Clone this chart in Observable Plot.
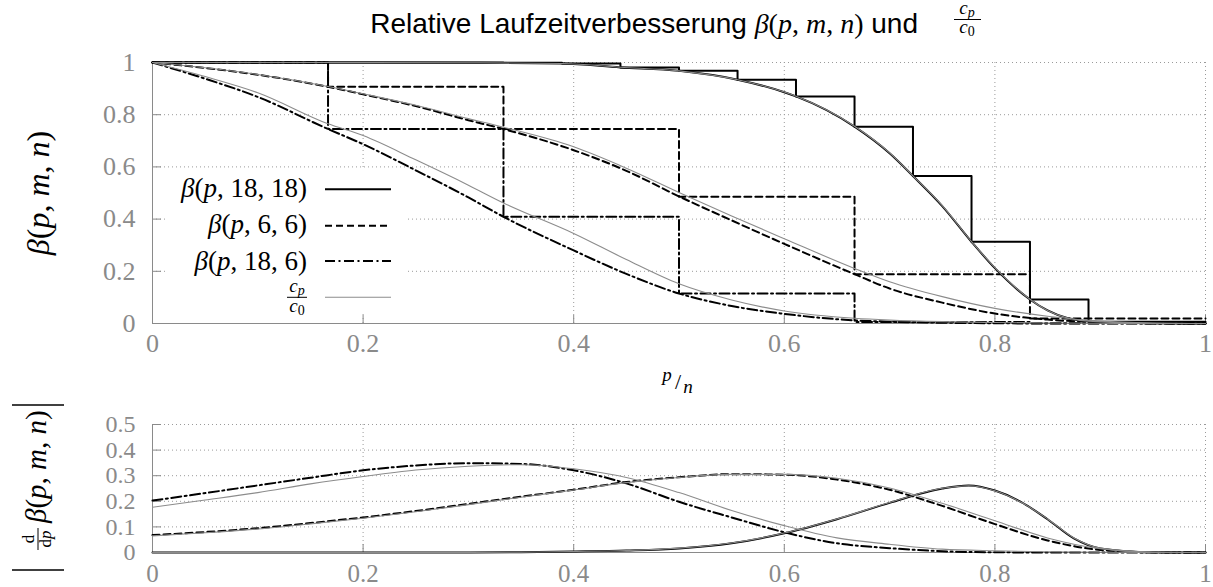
<!DOCTYPE html>
<html><head><meta charset="utf-8">
<script src="https://cdn.jsdelivr.net/npm/d3@7"></script>
<script src="https://cdn.jsdelivr.net/npm/@observablehq/plot@0.6"></script>
<style>
body{margin:0;background:#fff;}
#root{position:relative;width:1213px;height:587px;overflow:hidden;background:#fff;}
#root > svg{position:absolute;left:0;}
</style></head><body><div id="root"></div>
<script>
// ---------- tick values ----------
const X_TICKS = [0, 0.2, 0.4, 0.6, 0.8, 1];
const Y_TICKS_TOP = [0, 0.2, 0.4, 0.6, 0.8, 1];
const Y_TICKS_BOTTOM = [0, 0.1, 0.2, 0.3, 0.4, 0.5];

// ---------- step functions (top panel) ----------
const STEP_P18 = [0, 0.0556, 0.1111, 0.1667, 0.2222, 0.2778, 0.3333, 0.3889, 0.4444, 0.5, 0.5556, 0.6111, 0.6667, 0.7222, 0.7778, 0.8333, 0.8889, 1];
const STEP_BETA_18_18 = [1, 1, 1, 1, 1, 1, 0.999, 0.996, 0.981, 0.968, 0.934, 0.870, 0.754, 0.565, 0.313, 0.092, 0.007, 0.007];
const STEP_P6 = [0, 0.1667, 0.3333, 0.5, 0.6667, 0.8333, 1];
const STEP_BETA_6_6 = [1, 0.907, 0.745, 0.486, 0.189, 0.019, 0.019];
const STEP_BETA_18_6 = [1, 0.745, 0.409, 0.115, 0.006, 0.001, 0.001];

// ---------- smooth curves (top panel) ----------
const P_TOP = [0, 0.05, 0.1, 0.1667, 0.2, 0.25, 0.3, 0.3333, 0.4, 0.45, 0.5, 0.55, 0.6, 0.6667, 0.7, 0.75, 0.8, 0.85, 0.9, 0.95, 1];
const BETA_18_6 = [1, 0.938, 0.868, 0.745, 0.687, 0.587, 0.483, 0.409, 0.28, 0.19, 0.115, 0.067, 0.037, 0.012, 0.007, 0.003, 0.001, 0, 0, 0, 0];
const C_18_6    = [1, 0.946, 0.884, 0.765, 0.72, 0.627, 0.53, 0.462, 0.345, 0.245, 0.152, 0.09, 0.048, 0.02, 0.013, 0.007, 0.004, 0.002, 0.001, 0, 0];
const BETA_6_6  = [1, 0.979, 0.953, 0.907, 0.878, 0.833, 0.779, 0.745, 0.664, 0.585, 0.487, 0.395, 0.305, 0.189, 0.134, 0.08, 0.038, 0.015, 0.005, 0.001, 0];
const C_6_6     = [1, 0.98, 0.954, 0.908, 0.88, 0.836, 0.785, 0.752, 0.677, 0.595, 0.502, 0.412, 0.325, 0.211, 0.16, 0.103, 0.058, 0.028, 0.009, 0.002, 0];
const P_TOP_18  = [0, 0.1, 0.2, 0.3, 0.3889, 0.4444, 0.5, 0.5556, 0.6, 0.6111, 0.6667, 0.7, 0.7222, 0.75, 0.7778, 0.8, 0.8333, 0.85, 0.8889, 0.95, 1];
const BETA_18_18 = [1, 1, 1, 0.999, 0.996, 0.981, 0.968, 0.934, 0.886, 0.870, 0.754, 0.652, 0.565, 0.45, 0.313, 0.212, 0.092, 0.05, 0.008, 0.001, 0];
const C_18_18    = [1, 1, 1, 0.999, 0.996, 0.982, 0.968, 0.934, 0.887, 0.871, 0.756, 0.654, 0.566, 0.452, 0.314, 0.214, 0.093, 0.05, 0.009, 0.001, 0];

// ---------- derivatives (bottom panel) ----------
const P_BOT = [0, 0.05, 0.1, 0.15, 0.2, 0.25, 0.3, 0.35, 0.4, 0.45, 0.5, 0.55, 0.6, 0.65, 0.7, 0.75, 0.8, 0.85, 0.9, 0.95, 1];
const D_BETA_18_6 = [0.203, 0.232, 0.262, 0.292, 0.321, 0.34, 0.349, 0.346, 0.321, 0.27, 0.198, 0.137, 0.079, 0.036, 0.017, 0.005, 0.001, 0, 0, 0, 0];
const D_C_18_6    = [0.177, 0.205, 0.234, 0.268, 0.297, 0.322, 0.337, 0.343, 0.327, 0.293, 0.234, 0.164, 0.105, 0.057, 0.032, 0.013, 0.0065, 0.003, 0.001, 0, 0];
const D_BETA_6_6  = [0.068, 0.08, 0.095, 0.115, 0.137, 0.162, 0.19, 0.218, 0.245, 0.275, 0.294, 0.306, 0.304, 0.285, 0.245, 0.182, 0.111, 0.047, 0.01, 0.0005, 0];
const D_C_6_6     = [0.065, 0.077, 0.092, 0.112, 0.134, 0.159, 0.187, 0.216, 0.244, 0.273, 0.293, 0.305, 0.305, 0.29, 0.252, 0.192, 0.124, 0.057, 0.015, 0.002, 0];
const P_BOT_18    = [0, 0.2, 0.3, 0.35, 0.4, 0.45, 0.5, 0.55, 0.6, 0.65, 0.7, 0.75, 0.775, 0.8, 0.825, 0.85, 0.875, 0.9, 0.95, 1];
const D_BETA_18_18 = [0, 0, 0, 0.001, 0.004, 0.008, 0.016, 0.036, 0.075, 0.13, 0.194, 0.25, 0.262, 0.242, 0.197, 0.13, 0.055, 0.016, 0.001, 0];
const D_C_18_18    = [0, 0, 0, 0.001, 0.004, 0.008, 0.017, 0.037, 0.076, 0.131, 0.195, 0.251, 0.261, 0.241, 0.196, 0.131, 0.057, 0.017, 0.001, 0];

// ---------- helpers ----------
const zip = (xs, ys) => xs.map((p, i) => ({p, v: ys[i]}));
const fmt = d => d === 0 ? "0" : d === 1 ? "1" : d.toFixed(1);
const SERIF = "'Liberation Serif', 'DejaVu Serif', serif";
const SANS = "'Liberation Sans', Arial, sans-serif";
const GRID = {stroke: "#9a9a9a", strokeOpacity: 1, strokeDasharray: "1,3", strokeWidth: 1};
const AXISC = "#8a8a8a";
const SOLID = {stroke: "#000", strokeWidth: 2};
const DASH = {stroke: "#000", strokeWidth: 2, strokeDasharray: "7,4"};
const DASHDOT = {stroke: "#000", strokeWidth: 2, strokeDasharray: "10,3.5,2,3.5"};
const GREY = {stroke: "#8c8c8c", strokeWidth: 1.1};
const TICKTEXT = {tickSize: 0, fill: AXISC, fontFamily: SERIF, tickFormat: fmt, label: null};

const W = 1213, ML = 152, MR = 8;

// ---------- top panel ----------
const TOP_H = 400, TOP_MT = 62, TOP_MB = 77;
const topPlot = Plot.plot({
  width: W, height: TOP_H,
  marginLeft: ML, marginRight: MR, marginTop: TOP_MT, marginBottom: TOP_MB,
  x: {domain: [0, 1]}, y: {domain: [0, 1]},
  style: {background: "transparent", fontFamily: SERIF, color: AXISC},
  marks: [
    Plot.gridX(X_TICKS.slice(1), GRID),
    Plot.gridY(Y_TICKS_TOP.slice(1), GRID),
    Plot.ruleX([0], {stroke: AXISC}),
    Plot.ruleY([0], {stroke: AXISC}),
    Plot.tickX(X_TICKS.slice(1), {x: d => d, stroke: AXISC, insetTop: TOP_H - TOP_MT - TOP_MB - 8}),
    Plot.tickY(Y_TICKS_TOP.slice(1), {y: d => d, stroke: AXISC, insetRight: W - ML - MR - 9}),
    Plot.axisX(X_TICKS, {...TICKTEXT, tickPadding: 10, fontSize: 26}),
    Plot.axisY(Y_TICKS_TOP, {...TICKTEXT, tickPadding: 17, fontSize: 26}),
    Plot.line(zip(STEP_P18, STEP_BETA_18_18), {x: "p", y: "v", curve: "step-after", ...SOLID}),
    Plot.line(zip(STEP_P6, STEP_BETA_6_6), {x: "p", y: "v", curve: "step-after", ...DASH}),
    Plot.line(zip(STEP_P6, STEP_BETA_18_6), {x: "p", y: "v", curve: "step-after", ...DASHDOT}),
    Plot.line(zip(P_TOP_18, BETA_18_18), {x: "p", y: "v", curve: "monotone-x", ...SOLID}),
    Plot.line(zip(P_TOP, BETA_6_6), {x: "p", y: "v", curve: "monotone-x", ...DASH}),
    Plot.line(zip(P_TOP, BETA_18_6), {x: "p", y: "v", curve: "monotone-x", ...DASHDOT}),
    Plot.line(zip(P_TOP_18, C_18_18), {x: "p", y: "v", curve: "monotone-x", ...GREY}),
    Plot.line(zip(P_TOP, C_6_6), {x: "p", y: "v", curve: "monotone-x", ...GREY}),
    Plot.line(zip(P_TOP, C_18_6), {x: "p", y: "v", curve: "monotone-x", ...GREY})
  ]
});
topPlot.style.top = "0px";

// ---------- bottom panel ----------
const BOT_H = 187, BOT_MT = 24, BOT_MB = 35;
const botPlot = Plot.plot({
  width: W, height: BOT_H,
  marginLeft: ML, marginRight: MR, marginTop: BOT_MT, marginBottom: BOT_MB,
  x: {domain: [0, 1]}, y: {domain: [0, 0.5]},
  style: {background: "transparent", fontFamily: SERIF, color: AXISC},
  marks: [
    Plot.gridX(X_TICKS.slice(1), GRID),
    Plot.gridY(Y_TICKS_BOTTOM.slice(1), GRID),
    Plot.ruleX([0], {stroke: AXISC}),
    Plot.ruleY([0], {stroke: AXISC}),
    Plot.tickX(X_TICKS.slice(1), {x: d => d, stroke: AXISC, insetTop: BOT_H - BOT_MT - BOT_MB - 8}),
    Plot.tickY(Y_TICKS_BOTTOM.slice(1), {y: d => d, stroke: AXISC, insetRight: W - ML - MR - 9}),
    Plot.axisX(X_TICKS, {...TICKTEXT, tickPadding: 12, fontSize: 25}),
    Plot.axisY(Y_TICKS_BOTTOM, {...TICKTEXT, tickPadding: 17, fontSize: 24}),
    Plot.line(zip(P_BOT_18, D_BETA_18_18), {x: "p", y: "v", curve: "monotone-x", ...SOLID}),
    Plot.line(zip(P_BOT, D_BETA_6_6), {x: "p", y: "v", curve: "monotone-x", ...DASH}),
    Plot.line(zip(P_BOT, D_BETA_18_6), {x: "p", y: "v", curve: "monotone-x", ...DASHDOT}),
    Plot.line(zip(P_BOT_18, D_C_18_18), {x: "p", y: "v", curve: "monotone-x", ...GREY}),
    Plot.line(zip(P_BOT, D_C_6_6), {x: "p", y: "v", curve: "monotone-x", ...GREY}),
    Plot.line(zip(P_BOT, D_C_18_6), {x: "p", y: "v", curve: "monotone-x", ...GREY})
  ]
});
botPlot.style.top = "400px";

const root = document.getElementById("root");
root.appendChild(topPlot);
root.appendChild(botPlot);

// ---------- text overlay: title, axis labels, legend ----------
const I = s => `<tspan font-style="italic">${s}</tspan>`;
const overlay = `
<svg xmlns="http://www.w3.org/2000/svg" width="1213" height="587" style="top:0;pointer-events:none">
  <g fill="#000">
    <text x="918" y="33" text-anchor="end" font-family="${SANS}" font-size="28">Relative Laufzeitverbesserung <tspan font-family="${SERIF}" font-size="28">${I("β")}(${I("p")}, ${I("m")}, ${I("n")})</tspan> und</text>
    <text x="967" y="14" text-anchor="middle" font-family="${SERIF}" font-size="19">${I("c")}<tspan font-style="italic" font-size="14" dy="3">p</tspan></text>
    <line x1="954" x2="981" y1="19.5" y2="19.5" stroke="#000" stroke-width="1"/>
    <text x="967" y="33" text-anchor="middle" font-family="${SERIF}" font-size="19">${I("c")}<tspan font-size="14" dy="3">0</tspan></text>

    <text transform="translate(49,193) rotate(-90)" text-anchor="middle" font-family="${SERIF}" font-size="32">${I("β")}(${I("p")}, ${I("m")}, ${I("n")})</text>

    <text x="667" y="381" text-anchor="middle" font-family="${SERIF}" font-size="19" font-style="italic">p</text>
    <text x="678" y="389" text-anchor="middle" font-family="${SERIF}" font-size="22">/</text>
    <text x="688" y="393" text-anchor="middle" font-family="${SERIF}" font-size="19" font-style="italic">n</text>

    <g transform="translate(38,488) rotate(-90)">
      <line x1="-82" x2="-82" y1="-26" y2="26" stroke="#000" stroke-width="1.6"/>
      <line x1="83" x2="83" y1="-26" y2="26" stroke="#000" stroke-width="1.6"/>
      <text x="-51" y="-4" text-anchor="middle" font-family="${SERIF}" font-size="17">d</text>
      <line x1="-62" x2="-40" y1="0" y2="0" stroke="#000" stroke-width="1"/>
      <text x="-51" y="13" text-anchor="middle" font-family="${SERIF}" font-size="17">d${I("p")}</text>
      <text x="-35" y="8" text-anchor="start" font-family="${SERIF}" font-size="29">${I("β")}(${I("p")}, ${I("m")}, ${I("n")})</text>
    </g>

    <rect x="166" y="170" width="239" height="144" fill="#fff"/>
    <text x="307" y="196.5" text-anchor="end" font-family="${SERIF}" font-size="27">${I("β")}(${I("p")}, 18, 18)</text>
    <line x1="325" x2="391" y1="189.3" y2="189.3" stroke="#000" stroke-width="2"/>
    <text x="307" y="233.3" text-anchor="end" font-family="${SERIF}" font-size="27">${I("β")}(${I("p")}, 6, 6)</text>
    <line x1="325" x2="391" y1="225.7" y2="225.7" stroke="#000" stroke-width="2" stroke-dasharray="7,4"/>
    <text x="307" y="270" text-anchor="end" font-family="${SERIF}" font-size="27">${I("β")}(${I("p")}, 18, 6)</text>
    <line x1="325" x2="391" y1="261" y2="261" stroke="#000" stroke-width="2" stroke-dasharray="10,3.5,2,3.5"/>
    <text x="297" y="292" text-anchor="middle" font-family="${SERIF}" font-size="19">${I("c")}<tspan font-style="italic" font-size="14" dy="3">p</tspan></text>
    <line x1="287" x2="307" y1="297.3" y2="297.3" stroke="#000" stroke-width="1"/>
    <text x="297" y="312" text-anchor="middle" font-family="${SERIF}" font-size="19">${I("c")}<tspan font-size="14" dy="3">0</tspan></text>
    <line x1="325" x2="391" y1="297.3" y2="297.3" stroke="#8c8c8c" stroke-width="1.1"/>
  </g>
</svg>`;
root.insertAdjacentHTML("beforeend", overlay);
</script></body></html>
